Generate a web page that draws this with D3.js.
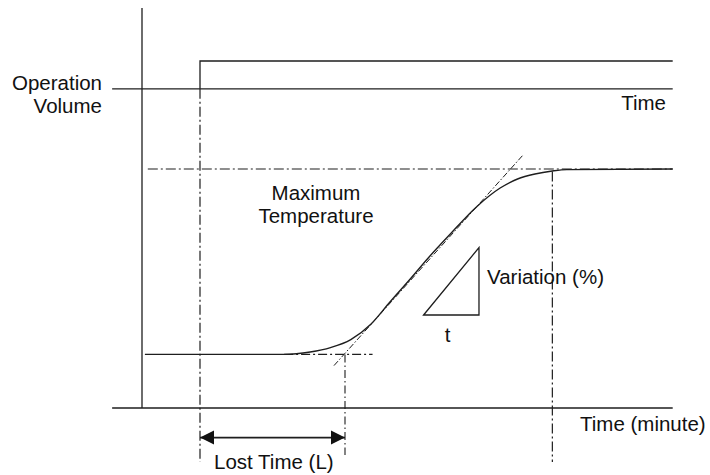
<!DOCTYPE html>
<html>
<head>
<meta charset="utf-8">
<script src="https://cdn.jsdelivr.net/npm/d3@7"></script>
<style>
  body { margin: 0; background: #fff; }
  svg text { font-family: "Liberation Sans", Arial, sans-serif; font-size: 20.5px; fill: #111; }
</style>
</head>
<body>
<svg width="710" height="475"></svg>
<script>
// time in minutes, value in arbitrary level units
const axisTime = [-1.03, 18.3];
const axisValue = [0, 100];

const stepTime = 2;          // operation volume step
const opBase = 79.8;
const opHigh = 86.75;

const curveTime  = [0.1, 4.9, 5.8, 6.5, 7.2, 7.9, 8.55, 9.25, 9.9, 10.6, 11.55, 12.35, 12.95, 13.55, 14.15, 14.65, 18.3];
const curveValue = [13.4, 13.4, 14.0, 15.1, 17.1, 21.0, 26.5, 32.25, 37.75, 43.25, 50.4, 55.0, 57.25, 58.5, 59.25, 59.6, 59.75];

const tempStart = 13.4;
const tempMax = 59.75;
const lostEnd = 7;           // end of lost time
const settleTime = 14.15;

const tangentTime = [6.62, 13.14];
const tangentValue = [10.6, 63.25];

const triTime = [9.71, 11.62, 11.62];
const triValue = [23.25, 40.1, 23.25];

const labels = {
  op: ['Operation', 'Volume'],
  time: 'Time',
  maxTemp: ['Maximum', 'Temperature'],
  variation: 'Variation (%)',
  t: 't',
  timeMin: 'Time (minute)',
  lost: 'Lost Time (L)'
};

const svg = d3.select('svg');
const x = d3.scaleLinear().domain([0, 1]).range([142, 171]);
const y = d3.scaleLinear().domain(axisValue).range([408, 8]);

const ink = '#1e1e1e';
const dashDot = '10,3,2,3';

const seg = (pts, opts) => {
  const p = svg.append('path')
    .attr('d', d3.line().x(d => x(d[0])).y(d => y(d[1]))(pts))
    .attr('fill', 'none')
    .attr('stroke', ink)
    .attr('stroke-width', opts && opts.w || 1.3);
  if (opts && opts.dash) p.attr('stroke-dasharray', opts.dash);
  return p;
};

// axes
seg([[0, axisValue[0]], [0, axisValue[1]]]);
seg([[axisTime[0], 0], [axisTime[1], 0]]);

// operation volume
seg([[axisTime[0], opBase], [axisTime[1], opBase]]);
seg([[stepTime, opBase], [stepTime, opHigh], [axisTime[1], opHigh]]);

// guide lines
seg([[stepTime, opBase], [stepTime, -13.5]], { dash: dashDot, w: 1.2 });
seg([[0.2, tempMax], [axisTime[1], tempMax]], { dash: dashDot, w: 1.2 });
seg([[4.9, tempStart], [7.95, tempStart]], { dash: '9,3,2,3', w: 1.2 });
seg([[lostEnd, tempStart], [lostEnd, -11.75]], { dash: '8,3,1.5,3', w: 1.1 });
seg([[settleTime, 59.1], [settleTime, -13.5]], { dash: dashDot, w: 1.2 });

// tangent
seg(tangentTime.map((t, i) => [t, tangentValue[i]]), { dash: '6,2,1.5,2', w: 1 });

// response curve
svg.append('path')
  .attr('d', d3.line().x(d => x(d[0])).y(d => y(d[1])).curve(d3.curveMonotoneX)(curveTime.map((t, i) => [t, curveValue[i]])))
  .attr('fill', 'none')
  .attr('stroke', ink)
  .attr('stroke-width', 1.4);

// slope triangle
svg.append('path')
  .attr('d', d3.line().x(d => x(d[0])).y(d => y(d[1]))(triTime.map((t, i) => [t, triValue[i]])) + 'Z')
  .attr('fill', 'none')
  .attr('stroke', ink)
  .attr('stroke-width', 1.3);

// lost time arrow
const arrowV = -7.4;
seg([[stepTime, arrowV], [lostEnd, arrowV]], { w: 1.6 });
const head = (tip, dir) => {
  const tx = x(tip), ty = y(arrowV);
  svg.append('path')
    .attr('d', `M${tx},${ty}L${tx + dir * 14},${ty - 7}L${tx + dir * 14},${ty + 7}Z`)
    .attr('fill', '#111');
};
head(stepTime, 1);
head(lostEnd, -1);

// labels
const txt = (s, px, py, anchor) => svg.append('text')
  .attr('x', px).attr('y', py).attr('text-anchor', anchor || 'start').text(s);

txt(labels.op[0], 102, 90, 'end');
txt(labels.op[1], 102, 113, 'end');
txt(labels.time, 666, 110, 'end');
txt(labels.maxTemp[0], 316, 200, 'middle');
txt(labels.maxTemp[1], 316, 223, 'middle');
txt(labels.variation, 487, 284);
txt(labels.t, 447.5, 342, 'middle');
txt(labels.timeMin, 580, 431);
txt(labels.lost, 214, 469);
</script>
</body>
</html>
